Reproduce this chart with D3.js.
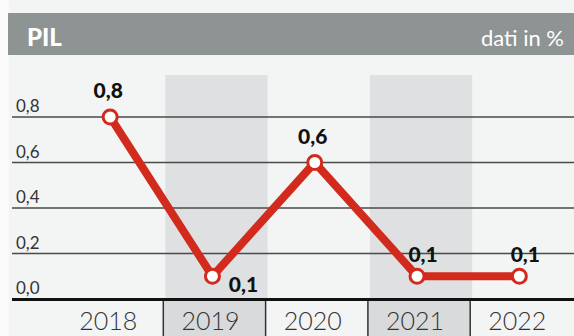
<!DOCTYPE html>
<html>
<head>
<meta charset="utf-8">
<script src="https://cdn.jsdelivr.net/npm/d3@7"></script>
<style>
  body { margin: 0; background: #f4f5f5; }
  svg { display: block; }
</style>
</head>
<body>
<div id="chart"></div>
<script>
// data
var years = ["2018", "2019", "2020", "2021", "2022"];
var pil = [0.8, 0.1, 0.6, 0.1, 0.1];
var yTicks = [0, 0.2, 0.4, 0.6, 0.8];
var title = "PIL";
var unit = "dati in %";

var width = 574, height = 336;

var svg = d3.select("#chart")
  .append("svg")
    .attr("width", width)
    .attr("height", height);

// background
svg.append("rect")
    .attr("width", width).attr("height", height)
    .attr("fill", "#f3f4f4");
svg.append("rect")
    .attr("width", 9).attr("height", height)
    .attr("fill", "#fafafa");

// header bar
svg.append("rect")
    .attr("x", 8).attr("y", 13)
    .attr("width", width - 8).attr("height", 42)
    .attr("fill", "#8e9494");
svg.append("text")
    .attr("x", 27).attr("y", 46)
    .attr("fill", "#fff")
    .style("font", "900 24px Lato")
    .text(title);
svg.append("text")
    .attr("x", 564).attr("y", 46)
    .attr("text-anchor", "end")
    .attr("fill", "#fff")
    .style("font", "400 22px Lato")
    .text(unit);

var x = d3.scaleBand()
    .domain(years)
    .range([61, 572.5]);

var y = d3.scaleLinear()
    .domain([0, 0.8])
    .range([299, 117]);

// shaded columns (every other year)
svg.append("g").selectAll("rect")
  .data(years.filter(function(d, i) { return i % 2 == 1; }))
  .enter().append("rect")
    .attr("x", function(d) { return x(d) + 2; })
    .attr("y", 75)
    .attr("width", x.bandwidth())
    .attr("height", 299 - 75)
    .attr("fill", "#dfe0e2");

// bottom cells
svg.append("g").selectAll("rect")
  .data(years.filter(function(d, i) { return i % 2 == 1; }))
  .enter().append("rect")
    .attr("x", function(d) { return x(d); })
    .attr("y", 299)
    .attr("width", x.bandwidth())
    .attr("height", height - 299)
    .attr("fill", "#d9dadb");
svg.append("g").selectAll("line")
  .data(years.slice(1))
  .enter().append("line")
    .attr("x1", function(d) { return x(d); })
    .attr("x2", function(d) { return x(d); })
    .attr("y1", 299).attr("y2", height)
    .attr("stroke", "#333")
    .attr("stroke-width", 1.5);

// gridlines + y labels
var grid = svg.append("g");
grid.selectAll("line")
  .data(yTicks.slice(1))
  .enter().append("line")
    .attr("x1", 12).attr("x2", width)
    .attr("y1", function(d) { return y(d); })
    .attr("y2", function(d) { return y(d); })
    .attr("stroke", "#4a4a4a")
    .attr("stroke-width", 1.6);
grid.selectAll("text")
  .data(yTicks)
  .enter().append("text")
    .attr("x", 16)
    .attr("y", function(d) { return y(d) - 5; })
    .attr("fill", "#333")
    .style("font", "400 17px Lato")
    .text(function(d) { return d3.format(".1f")(d).replace(".", ","); });

// x axis line
svg.append("line")
    .attr("x1", 12).attr("x2", width)
    .attr("y1", 299.5).attr("y2", 299.5)
    .attr("stroke", "#111")
    .attr("stroke-width", 3);

// x labels
svg.append("g").selectAll("text")
  .data(years)
  .enter().append("text")
    .attr("x", function(d) { return x(d) + x.bandwidth() / 2 - 4; })
    .attr("y", 330)
    .attr("text-anchor", "middle")
    .attr("fill", "#333")
    .style("font", "300 25px Lato")
    .text(function(d) { return d; });

// line
var px = function(d, i) { return x(years[i]) + x.bandwidth() / 2 - 2; };
var line = d3.line()
    .x(px)
    .y(function(d) { return y(d); });

svg.append("path")
    .attr("d", line(pil))
    .attr("fill", "none")
    .attr("stroke", "#d32a1e")
    .attr("stroke-width", 8)
    .attr("stroke-linejoin", "round");

svg.append("g").selectAll("circle")
  .data(pil)
  .enter().append("circle")
    .attr("cx", px)
    .attr("cy", function(d) { return y(d); })
    .attr("r", 7)
    .attr("fill", "#fff")
    .attr("stroke", "#d32a1e")
    .attr("stroke-width", 3);

// value labels: below-right when the point is a deep local minimum, else above
function below(i) {
  return i > 0 && i < pil.length - 1 && pil[i] < pil[i - 1] && pil[i] < pil[i + 1] && pil[i + 1] > pil[i] + 0.2;
}
svg.append("g").selectAll("text")
  .data(pil)
  .enter().append("text")
    .attr("x", function(d, i) { return px(d, i) + (below(i) ? 31 : (d < 0.2 ? 6 : -2)); })
    .attr("y", function(d, i) { return y(d) + (below(i) ? 16 : (d < 0.2 ? -14 : -19)); })
    .attr("text-anchor", "middle")
    .attr("fill", "#111")
    .style("font", "900 21px Lato")
    .text(function(d) { return d3.format(".1f")(d).replace(".", ","); });
</script>
</body>
</html>
